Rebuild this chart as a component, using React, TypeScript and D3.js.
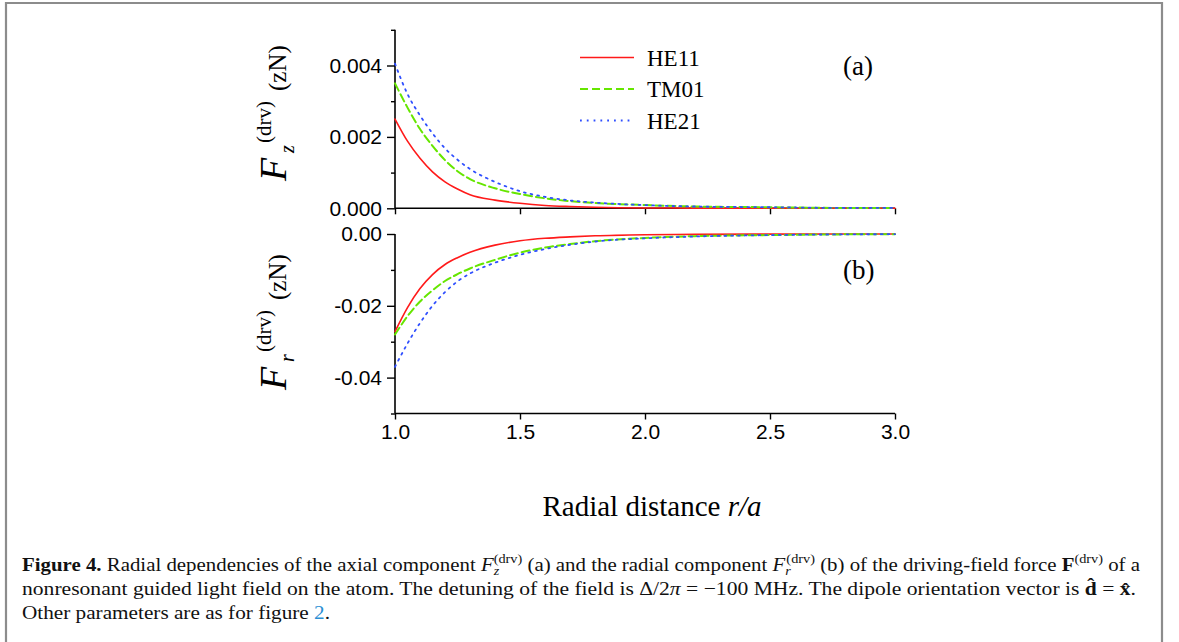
import React, { useEffect, useRef } from 'react';
import * as d3 from 'd3';

// radial distance r/a sampled along the curves
const radius = [1.0, 1.05, 1.1, 1.15, 1.2, 1.25, 1.3, 1.4, 1.5, 1.6, 1.7, 1.8, 2.0, 2.2, 2.5, 2.8, 3.0];

// panel (a): axial force Fz (zN)
const fzHE11 = [0.0025, 0.00188, 0.0014, 0.00102, 0.00074, 0.00054, 0.00038, 0.00023, 0.00014, 0.00008, 0.00005, 0.00003, 0.00001, 0.000005, 0.000002, 0.000001, 0.0];
const fzTM01 = [0.0035, 0.00282, 0.00222, 0.00175, 0.00135, 0.00104, 0.00082, 0.00056, 0.0004, 0.00028, 0.0002, 0.00015, 0.00009, 0.00005, 0.00003, 0.00001, 0.00001];
const fzHE21 = [0.00405, 0.0032, 0.0026, 0.0021, 0.00168, 0.00136, 0.0011, 0.00074, 0.00048, 0.00032, 0.00022, 0.00016, 0.00009, 0.00005, 0.00003, 0.00001, 0.00001];

// panel (b): radial force Fr (zN)
const frHE11 = [-0.0272, -0.0205, -0.0152, -0.0113, -0.0085, -0.0066, -0.0051, -0.0031, -0.0019, -0.0012, -0.0008, -0.0005, -0.0002, -0.0001, -0.00004, -0.00001, 0.0];
const frTM01 = [-0.028, -0.0229, -0.0188, -0.0157, -0.0131, -0.0112, -0.0096, -0.0072, -0.0052, -0.0038, -0.0028, -0.002, -0.0011, -0.0006, -0.0003, -0.0001, -0.00005];
const frHE21 = [-0.037, -0.0305, -0.0248, -0.02, -0.0162, -0.0132, -0.011, -0.008, -0.0058, -0.0042, -0.003, -0.0021, -0.0012, -0.0007, -0.0003, -0.0001, -0.00005];

const modes = ['HE11', 'TM01', 'HE21'];
const xTicks = [1.0, 1.5, 2.0, 2.5, 3.0];
const fzTicks = [0, 0.002, 0.004];
const fzMinor = [0.001, 0.003, 0.005];
const frTicks = [0, -0.02, -0.04];
const frMinor = [-0.01, -0.03, -0.05];

const styles = [
  { stroke: '#ff1a1a', width: 1.6, dash: null },
  { stroke: '#66e600', width: 2, dash: '8,4' },
  { stroke: '#2f4fff', width: 1.8, dash: '1.8,5' },
];

const serif = '"Liberation Serif", "Times New Roman", serif';
const sans = '"Liberation Sans", Arial, sans-serif';

const hyphen = (f) => (d) => f(d).replace('\u2212', '-');

const App = () => {
  const topRef = useRef(null);
  const botRef = useRef(null);

  const x = d3.scaleLinear().domain([1, 3]).range([395, 895]);
  const yTop = d3.scaleLinear().domain([0, 0.005]).range([208.3, 29.8]);
  const yBot = d3.scaleLinear().domain([-0.05, 0]).range([413.5, 234]);

  useEffect(() => {
    const drawAxes = (node, y, major, minor, fmt, showX) => {
      const g = d3.select(node);
      g.selectAll('*').remove();
      const [y0] = y.range();
      const xa = g.append('g').attr('transform', `translate(0,${y0})`)
        .call(d3.axisBottom(x).tickValues(xTicks).tickSize(6).tickPadding(5)
          .tickFormat(showX ? d3.format('.1f') : () => ''));
      const ya = g.append('g').attr('transform', `translate(395,0)`)
        .call(d3.axisLeft(y).tickValues(major).tickSize(8).tickPadding(5).tickFormat(fmt));
      g.append('g').attr('transform', `translate(395,0)`)
        .call(d3.axisLeft(y).tickValues(minor).tickSize(4).tickFormat(() => ''))
        .select('.domain').remove();
      g.selectAll('.domain').attr('stroke', '#000').attr('stroke-width', 1.6);
      g.selectAll('.tick line').attr('stroke', '#000').attr('stroke-width', 1.4);
      g.selectAll('text').attr('font-family', sans).attr('font-size', 21).attr('fill', '#000');
      xa.selectAll('path.domain').attr('d', `M395,0H895`);
      ya.selectAll('path.domain').attr('d', `M0,${y.range()[1]}V${y0}`);
    };
    drawAxes(topRef.current, yTop, fzTicks, fzMinor, hyphen(d3.format('.3f')), false);
    drawAxes(botRef.current, yBot, frTicks, frMinor, hyphen(d3.format('.2f')), true);
  }, []);

  const lineTop = d3.line().x((d, i) => x(radius[i])).y(d => yTop(d)).curve(d3.curveMonotoneX);
  const lineBot = d3.line().x((d, i) => x(radius[i])).y(d => yBot(d)).curve(d3.curveMonotoneX);
  const topSeries = [fzHE11, fzTM01, fzHE21];
  const botSeries = [frHE11, frTM01, frHE21];

  const yTitle = (cy, sub) => (
    <g transform={`translate(286,${cy}) rotate(-90)`} fontFamily={serif} fill="#000">
      <text x={-68} y={0} fontSize={38} fontStyle="italic">F</text>
      <text x={-40} y={8} fontSize={20} fontStyle="italic">{sub}</text>
      <text x={-30} y={-15} fontSize={21}>(drv)</text>
      <text x={22} y={0} fontSize={25}>(zN)</text>
    </g>
  );

  return (
    <svg width={1179} height={642} style={{ display: 'block', position: 'absolute', left: 0, top: 0 }}>
      <rect x={0} y={0} width={1179} height={642} fill="#fff" />
      <path d="M6,660V3H1162V660" fill="none" stroke="#8c8c8c" strokeWidth={2.2} />

      <g ref={topRef} />
      <g ref={botRef} />

      {topSeries.map((s, k) => (
        <path key={'t' + k} d={lineTop(s)} fill="none" stroke={styles[k].stroke}
          strokeWidth={styles[k].width} strokeDasharray={styles[k].dash || undefined} strokeLinecap="round" />
      ))}
      {botSeries.map((s, k) => (
        <path key={'b' + k} d={lineBot(s)} fill="none" stroke={styles[k].stroke}
          strokeWidth={styles[k].width} strokeDasharray={styles[k].dash || undefined} strokeLinecap="round" />
      ))}

      {/* legend */}
      {modes.map((m, k) => (
        <g key={m} transform={`translate(580,${57.5 + k * 31.5})`}>
          <line x1={0} x2={54} y1={0} y2={0} stroke={styles[k].stroke}
            strokeWidth={styles[k].width} strokeDasharray={styles[k].dash || undefined} />
          <text x={67} y={8} fontFamily={serif} fontSize={23} fill="#000">{m}</text>
        </g>
      ))}

      <text x={843} y={75} fontFamily={serif} fontSize={27} fill="#000">(a)</text>
      <text x={843} y={279} fontFamily={serif} fontSize={27} fill="#000">(b)</text>

      {yTitle(113, 'z')}
      {yTitle(322, 'r')}

      <text x={652} y={516} textAnchor="middle" fontFamily={serif} fontSize={29} fill="#000">
        Radial distance <tspan fontStyle="italic">r/a</tspan>
      </text>

      <g fontFamily={serif} fontSize={19} fill="#111">
        <text x={22} y={571} textLength={1118} lengthAdjust="spacingAndGlyphs">
          <tspan fontWeight="bold">Figure 4.</tspan> Radial dependencies of the axial component <tspan fontStyle="italic">F</tspan>
          <tspan fontSize={13} fontStyle="italic" dy={4}>z</tspan>
          <tspan fontSize={13} dx={-5} dy={-12}>(drv)</tspan>
          <tspan dy={8}> (a) and the radial component </tspan><tspan fontStyle="italic">F</tspan>
          <tspan fontSize={13} fontStyle="italic" dy={4}>r</tspan>
          <tspan fontSize={13} dx={-4} dy={-12}>(drv)</tspan>
          <tspan dy={8}> (b) of the driving-field force </tspan><tspan fontWeight="bold">F</tspan>
          <tspan fontSize={13} dy={-8}>(drv)</tspan>
          <tspan dy={8}> of a</tspan>
        </text>
        <text x={22} y={595} textLength={1114} lengthAdjust="spacingAndGlyphs">
          nonresonant guided light field on the atom. The detuning of the field is Δ/2<tspan fontStyle="italic">π</tspan> = −100 MHz. The dipole orientation vector is <tspan fontWeight="bold">d̂</tspan> = <tspan fontWeight="bold">x̂</tspan>.
        </text>
        <text x={22} y={619} textLength={308} lengthAdjust="spacingAndGlyphs">
          Other parameters are as for figure <tspan fill="#2a8fd4">2</tspan>.
        </text>
      </g>
    </svg>
  );
};

export default App;
